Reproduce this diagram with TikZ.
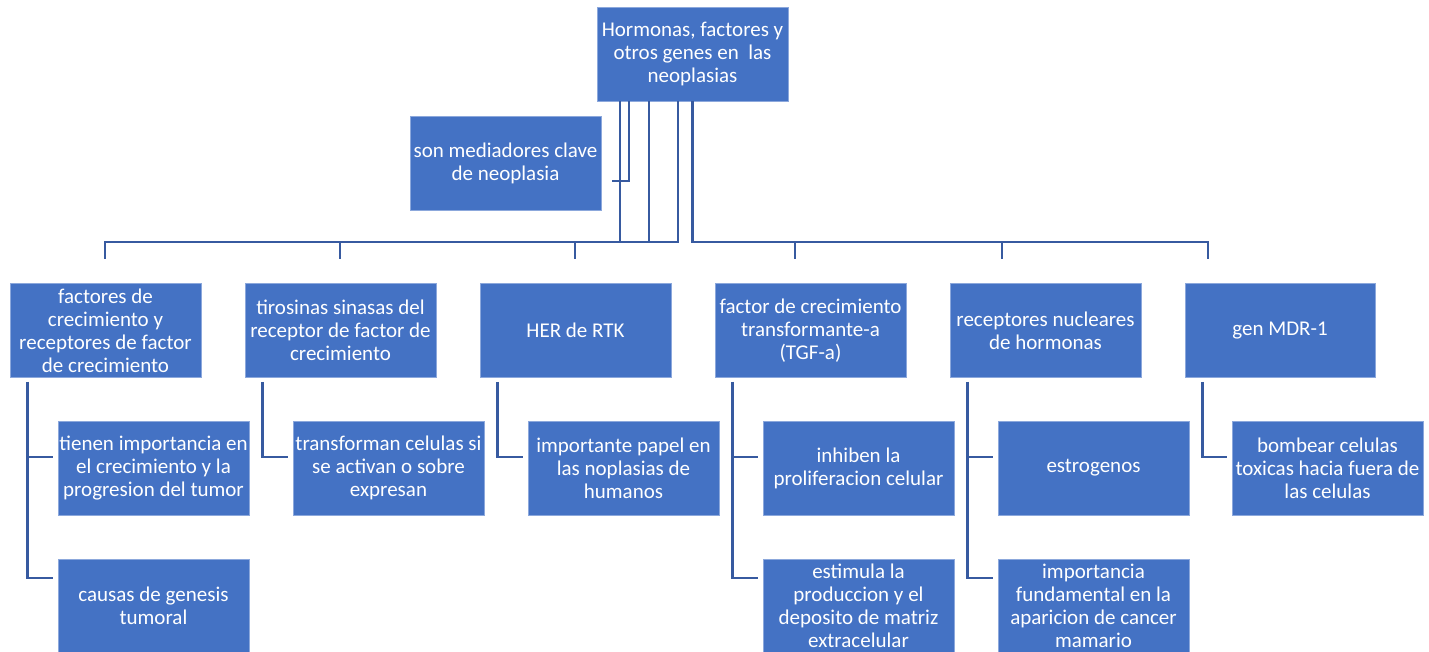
\documentclass[tikz,border=0pt]{standalone}
\usepackage{fontspec}
\setmainfont{Carlito}
\definecolor{boxblue}{RGB}{68,114,196}
\definecolor{boxedge}{RGB}{140,168,220}
\definecolor{connblue}{RGB}{55,90,160}
\tikzset{
  box/.style={fill=boxblue, draw=boxedge, line width=0.6pt, text=white,
    minimum width=191pt, minimum height=94pt, inner sep=0pt, align=center,
    font=\fontsize{21}{23}\selectfont},
  conn/.style={draw=connblue, line width=2.8pt, line cap=butt, line join=miter}
}
\begin{document}
\begin{tikzpicture}[x=1pt,y=-1pt]
\clip (0,0) rectangle (1429,651);
\useasboundingbox (0,0) rectangle (1429,651);
% top
\node[box] (T) at (692.5,54) {Hormonas, factores y\\otros genes en\ \ las\\neoplasias};
\node[box] (S) at (505.5,163) {son mediadores clave\\de neoplasia};
% level 1
\node[box] (A) at (105.5,330.5) {factores de\\crecimiento y\\receptores de factor\\de crecimiento};
\node[box] (B) at (340.5,330.5) {tirosinas sinasas del\\receptor de factor de\\crecimiento};
\node[box] (C) at (575.5,330.5) {HER de RTK};
\node[box] (D) at (810.5,330.5) {factor de crecimiento\\transformante-a\\(TGF-a)};
\node[box] (E) at (1045.5,330.5) {receptores nucleares\\de hormonas};
\node[box, minimum width=190pt] (F) at (1280,330.5) {gen MDR-1};
% level 2
\node[box] (A1) at (153.5,468) {tienen importancia en\\el crecimiento y la\\progresion del tumor};
\node[box] (B1) at (388.5,468) {transforman celulas si\\se activan o sobre\\expresan};
\node[box] (C1) at (623.5,468) {importante papel en\\las noplasias de\\humanos};
\node[box] (D1) at (858.5,468) {inhiben la\\proliferacion celular};
\node[box] (E1) at (1093.5,468) {estrogenos};
\node[box] (F1) at (1327.5,468) {bombear celulas\\toxicas hacia fuera de\\las celulas};
% level 3
\node[box] (A2) at (153.5,606) {causas de genesis\\tumoral};
\node[box] (D2) at (858.5,606) {estimula la\\produccion y el\\deposito de matriz\\extracelular};
\node[box] (E2) at (1093.5,606) {importancia\\fundamental en la\\aparicion de cancer\\mamario};
% helper coordinates
\coordinate (bus) at (0,242);
\coordinate (tA) at ([xshift=-72.5pt]T.south);
\coordinate (tS) at ([xshift=-63.5pt]T.south);
\coordinate (tB) at ([xshift=-43.5pt]T.south);
\coordinate (tC) at ([xshift=-14.5pt]T.south);
\coordinate (tR) at (T.south);
\coordinate (sEnd) at ([xshift=11pt,yshift=-18pt]S.east);
\coordinate (dA) at ([xshift=-0.5pt,yshift=24.5pt]A.north);
\coordinate (dB) at ([xshift=-0.5pt,yshift=24.5pt]B.north);
\coordinate (dC) at ([xshift=-0.5pt,yshift=24.5pt]C.north);
\coordinate (dD) at ([xshift=-15.5pt,yshift=24.5pt]D.north);
\coordinate (dE) at ([xshift=-43.5pt,yshift=24.5pt]E.north);
\coordinate (dF) at ([xshift=-72pt,yshift=24.5pt]F.north);
% top connectors
\draw[conn] (tA) |- (dA |- bus) -- (dA);
\draw[conn] (tB) |- (dB |- bus) -- (dB);
\draw[conn] (tC) |- (dC |- bus) -- (dC);
\draw[conn] (tS) |- (sEnd);
\draw[conn] (tR) |- (dD |- bus) -- (dD);
\draw[conn] (tR) |- (dE |- bus) -- (dE);
\draw[conn] (tR) |- (dF |- bus) -- (dF);
% sub connectors
\foreach \p/\c in {A/A1,B/B1,C/C1,D/D1,E/E1,F/F1}{
  \draw[conn] ([xshift=18pt,yshift=-4pt]\p.south west) |- ([xshift=-5pt,yshift=11pt]\c.west);
}
\foreach \p/\c in {A/A2,D/D2,E/E2}{
  \draw[conn] ([xshift=18pt,yshift=-4pt]\p.south west) |- ([xshift=-5pt,yshift=28pt]\c.west);
}
\end{tikzpicture}
\end{document}
